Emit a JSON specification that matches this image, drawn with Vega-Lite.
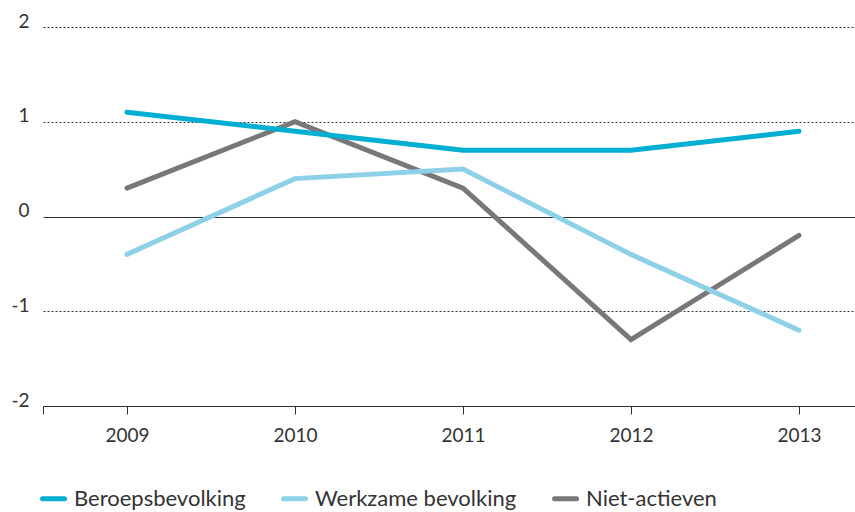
{
  "$schema": "https://vega.github.io/schema/vega-lite/v6.json",
  "width": 812,
  "height": 379,
  "autosize": {"type": "none"},
  "padding": {"left": 43, "top": 27, "right": 0, "bottom": 106},
  "background": "white",
  "config": {
    "view": {"stroke": null},
    "font": "Lato",
    "axis": {"labelFont": "Lato", "labelColor": "#333333", "labelFontSize": 19, "title": null}
  },
  "data": {
    "values": [
      {"jaar": 2009, "reeks": "Beroepsbevolking", "waarde": 1.1},
      {"jaar": 2010, "reeks": "Beroepsbevolking", "waarde": 0.9},
      {"jaar": 2011, "reeks": "Beroepsbevolking", "waarde": 0.7},
      {"jaar": 2012, "reeks": "Beroepsbevolking", "waarde": 0.7},
      {"jaar": 2013, "reeks": "Beroepsbevolking", "waarde": 0.9},
      {"jaar": 2009, "reeks": "Werkzame bevolking", "waarde": -0.4},
      {"jaar": 2010, "reeks": "Werkzame bevolking", "waarde": 0.4},
      {"jaar": 2011, "reeks": "Werkzame bevolking", "waarde": 0.5},
      {"jaar": 2012, "reeks": "Werkzame bevolking", "waarde": -0.4},
      {"jaar": 2013, "reeks": "Werkzame bevolking", "waarde": -1.2},
      {"jaar": 2009, "reeks": "Niet-actieven", "waarde": 0.3},
      {"jaar": 2010, "reeks": "Niet-actieven", "waarde": 1.0},
      {"jaar": 2011, "reeks": "Niet-actieven", "waarde": 0.3},
      {"jaar": 2012, "reeks": "Niet-actieven", "waarde": -1.3},
      {"jaar": 2013, "reeks": "Niet-actieven", "waarde": -0.2}
    ]
  },
  "encoding": {
    "x": {
      "field": "jaar", "type": "quantitative",
      "scale": {"domain": [2008.5, 2013.3333], "nice": false, "zero": false},
      "axis": {
        "values": [2008.5, 2009, 2010, 2011, 2012, 2013],
        "labelExpr": "datum.value == 2008.5 ? '' : toString(datum.value)",
        "grid": false,
        "domainColor": "#333333", "domainWidth": 1,
        "tickColor": "#333333", "tickWidth": 1, "tickSize": 8,
        "labelPadding": 12, "labelFlush": false, "labelOverlap": false
      }
    },
    "y": {
      "field": "waarde", "type": "quantitative",
      "scale": {"domain": [-2, 2], "nice": false},
      "axis": {
        "values": [-2, -1, 0, 1, 2],
        "labelExpr": "toString(datum.value)",
        "domain": false, "ticks": false, "tickSize": 0,
        "labelAlign": "right", "labelBaseline": "alphabetic",
        "labelPadding": 14,
        "grid": true,
        "gridColor": "#333333",
        "gridWidth": 1,
        "gridDash": {"condition": {"test": "datum.value === 0", "value": []}, "value": [2, 2]}
      }
    },
    "color": {
      "field": "reeks", "type": "nominal",
      "scale": {
        "domain": ["Beroepsbevolking", "Werkzame bevolking", "Niet-actieven"],
        "range": ["#00AFD2", "#8ED0E7", "#78787B"]
      },
      "legend": {
        "title": null,
        "orient": "none",
        "direction": "horizontal",
        "legendX": -3,
        "legendY": 458,
        "symbolType": "stroke",
        "symbolSize": 484,
        "symbolStrokeWidth": 5,
        "labelFont": "Lato",
        "labelFontSize": 22,
        "labelLimit": 0,
        "labelColor": "#333333",
        "labelOffset": 7,
        "columnPadding": 27,
        "encode": {"symbols": {"update": {"strokeCap": {"value": "round"}}}}
      }
    }
  },
  "layer": [
    {
      "transform": [{"filter": "datum.reeks === 'Niet-actieven'"}],
      "mark": {"type": "line", "strokeWidth": 5, "strokeCap": "round", "strokeJoin": "miter"}
    },
    {
      "transform": [{"filter": "datum.reeks === 'Werkzame bevolking'"}],
      "mark": {"type": "line", "strokeWidth": 5, "strokeCap": "round", "strokeJoin": "miter"}
    },
    {
      "transform": [{"filter": "datum.reeks === 'Beroepsbevolking'"}],
      "mark": {"type": "line", "strokeWidth": 5, "strokeCap": "round", "strokeJoin": "miter"}
    }
  ]
}
